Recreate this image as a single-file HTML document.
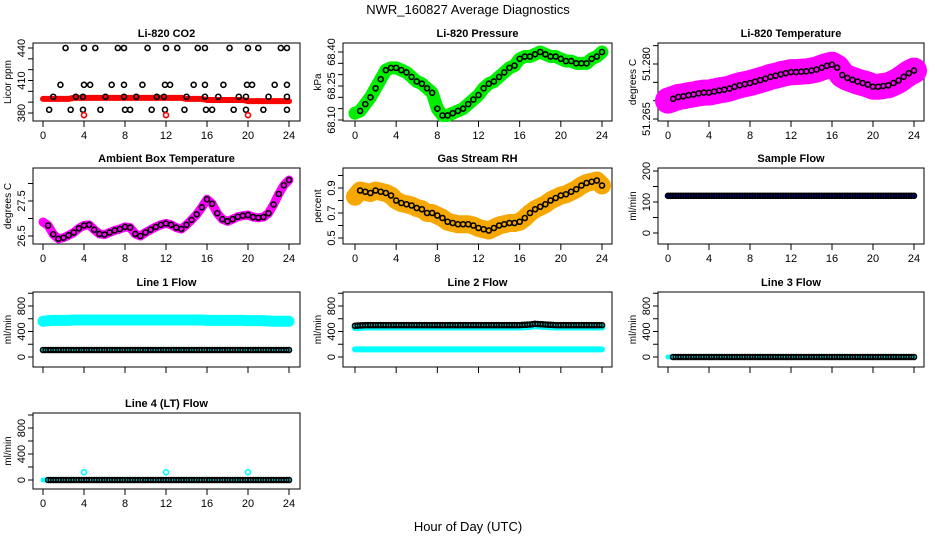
<!DOCTYPE html>
<html><head><meta charset="utf-8"><style>
html,body{margin:0;padding:0;background:#fff;}
svg{display:block;font-family:"Liberation Sans",Arial,sans-serif;}
</style></head><body>
<svg id="chart" width="936" height="540" viewBox="0 0 936 540" xmlns="http://www.w3.org/2000/svg">
<text x="468" y="14" text-anchor="middle" font-size="13">NWR_160827  Average Diagnostics</text>
<text x="468" y="531" text-anchor="middle" font-size="13">Hour of Day (UTC)</text>
</svg>
<script>
// ---- data ----
const hours = [0,0.5,1,1.5,2,2.5,3,3.5,4,4.5,5,5.5,6,6.5,7,7.5,8,8.5,9,9.5,10,10.5,11,11.5,12,12.5,13,13.5,14,14.5,15,15.5,16,16.5,17,17.5,18,18.5,19,19.5,20,20.5,21,21.5,22,22.5,23,23.5,24];
const xTicks = [0,4,8,12,16,20,24];

const co2Band = [393,393,393,393,393,393,394,394,394,394,394,394,394,394,394,394,394,394,394,394,394,394,394,394,394,394,394,394,393,393,393,393,392,392,392,392,392,392,392,392,391,391,391,391,391,391,391,391,391];
const co2PtX = [2.2,4,5.1,7.3,7.9,10.2,12,13.1,15.1,15.8,18.2,20,21,23.2,23.8, 1.7,4,4.6,6.7,7.9,9.7,11.9,12.4,14.7,15.8,17.6,19.9,20.4,22.6,23.8, 1,3.2,3.9,6.1,7.9,9.1,11.1,11.8,14,15.8,17.1,19.1,19.8,22,23.8, 0.6,2.7,3.9,5.6,8,8.5,10.6,11.9,13.8,15.9,16.5,18.6,19.8,21.5,23.8];
const co2PtY = [440,440,440,440,440,440,440,440,440,440,440,440,440,440,440, 406,406,406,406,406,406,406,406,406,406,406,406,406,406,406, 395,395,395,395,395,395,395,395,395,395,395,395,395,395,395, 383,383,383,383,383,383,383,383,383,383,383,383,383,383,383];
const co2OutX = [4,12,20];
const co2OutY = [378,378,378];

const presBand = [68.13,68.14,68.17,68.20,68.24,68.28,68.32,68.33,68.33,68.32,68.31,68.29,68.27,68.26,68.24,68.22,68.15,68.12,68.12,68.13,68.14,68.15,68.17,68.19,68.21,68.24,68.26,68.27,68.29,68.31,68.33,68.34,68.37,68.38,68.38,68.39,68.40,68.39,68.38,68.38,68.37,68.36,68.36,68.35,68.35,68.35,68.37,68.38,68.40];

const tempBand = [51.2700,51.2705,51.2710,51.2712,51.2715,51.2717,51.2720,51.2722,51.2722,51.2725,51.2728,51.2730,51.2733,51.2738,51.2742,51.2745,51.2748,51.2752,51.2756,51.2760,51.2765,51.2768,51.2772,51.2775,51.2778,51.2778,51.2779,51.2780,51.2782,51.2785,51.2790,51.2795,51.2798,51.2790,51.2770,51.2762,51.2757,51.2752,51.2748,51.2744,51.2738,51.2738,51.2740,51.2742,51.2748,51.2755,51.2765,51.2775,51.2782];

const ambBand = [26.9,26.8,26.55,26.42,26.45,26.52,26.6,26.72,26.8,26.82,26.68,26.56,26.54,26.6,26.66,26.7,26.76,26.74,26.56,26.5,26.6,26.68,26.76,26.82,26.86,26.82,26.74,26.7,26.82,26.96,27.12,27.32,27.55,27.42,27.15,26.98,26.92,26.98,27.05,27.08,27.1,27.04,27.02,27.04,27.15,27.4,27.7,27.95,28.1];

const rhBand = [0.83,0.88,0.87,0.86,0.88,0.87,0.86,0.84,0.80,0.78,0.77,0.76,0.74,0.73,0.70,0.70,0.68,0.66,0.63,0.62,0.61,0.61,0.61,0.60,0.58,0.57,0.56,0.58,0.60,0.61,0.62,0.62,0.63,0.66,0.70,0.73,0.75,0.77,0.80,0.82,0.84,0.85,0.87,0.89,0.92,0.94,0.95,0.96,0.92];

const sampleFlow = [120,120,120,120,120,120,120,120,120,120,120,120,120,120,120,120,120,120,120,120,120,120,120,120,120,120,120,120,120,120,120,120,120,120,120,120,120,120,120,120,120,120,120,120,120,120,120,120,120];
const line1Main = [560,570,575,575,575,575,580,580,580,580,580,580,580,580,580,580,580,580,580,580,580,580,580,580,580,580,580,580,580,580,580,580,575,575,575,575,575,575,575,575,570,570,570,570,565,560,560,560,560];
const line1Low = [110,110,110,110,110,110,110,110,110,110,110,110,110,110,110,110,110,110,110,110,110,110,110,110,110,110,110,110,110,110,110,110,110,110,110,110,110,110,110,110,110,110,110,110,110,110,110,110,110];
const line2Main = [490,495,500,500,500,500,500,500,500,500,500,500,500,500,500,500,500,500,500,500,500,500,500,500,500,500,500,500,500,500,500,500,500,505,510,520,515,510,505,500,500,500,500,500,500,500,500,500,500];
const line2Low = [120,120,120,120,120,120,120,120,120,120,120,120,120,120,120,120,120,120,120,120,120,120,120,120,120,120,120,120,120,120,120,120,120,120,120,120,120,120,120,120,120,120,120,120,120,120,120,120,120];
const zeroFlow = [0,0,0,0,0,0,0,0,0,0,0,0,0,0,0,0,0,0,0,0,0,0,0,0,0,0,0,0,0,0,0,0,0,0,0,0,0,0,0,0,0,0,0,0,0,0,0,0,0];
const line4OutX = [4,12,20];
const line4OutY = [120,120,120];

// ---- layout ----
const NS = "http://www.w3.org/2000/svg";
const svg = document.getElementById('chart');
const cols = [{bx0:33,bx1:300,x0:43,x24:289},{bx0:343,bx1:612,x0:355,x24:602},{bx0:658,bx1:924,x0:668,x24:914}];
const rows = [{t:43,b:121},{t:168,b:244},{t:292,b:367},{t:413,b:489}];

function mk(tag, attrs){const e=document.createElementNS(NS,tag);for(const k in attrs)e.setAttribute(k,attrs[k]);return e;}

function panel(name,title,ci,ri,ylab,yv0,yp0,yv1,yp1,yTickVals,yLabVals,showXLabels){
  const c=cols[ci], r=rows[ri];
  const g=mk('g',{});
  
  
  svg.appendChild(g);
  const sx=h=>c.x0+h*(c.x24-c.x0)/24;
  const sy=v=>yp0+(v-yv0)*(yp1-yp0)/(yv1-yv0);
  const box=mk('rect',{x:c.bx0,y:r.t,width:c.bx1-c.bx0,height:r.b-r.t,fill:'none',stroke:'#000','stroke-width':1});
  
  
  g.appendChild(box);
  const tt=mk('text',{x:(c.bx0+c.bx1)/2,y:r.t-6,'text-anchor':'middle','font-size':11,'font-weight':'bold'});
  tt.textContent=title;
  
  
  g.appendChild(tt);
  xTicks.forEach(h=>{
    const l=mk('line',{x1:sx(h),x2:sx(h),y1:r.b,y2:r.b+6,stroke:'#000'});
    
    
    g.appendChild(l);
    if(showXLabels){
      const t=mk('text',{x:sx(h),y:r.b+18,'text-anchor':'middle','font-size':11});
      t.textContent=h;
      
      
      g.appendChild(t);
    }
  });
  yTickVals.forEach(v=>{
    const y=sy(v);
    const l=mk('line',{x1:c.bx0-5,x2:c.bx0,y1:y,y2:y,stroke:'#000'});
    
    
    g.appendChild(l);
  });
  yLabVals.forEach(v=>{
    const y=sy(+v), x=c.bx0-8;
    const t=mk('text',{x:x,y:y,'text-anchor':'middle','font-size':11,transform:`rotate(-90 ${x} ${y})`});
    t.textContent=v;
    
    
    g.appendChild(t);
  });
  const ylx=c.bx0-22, yly=(r.t+r.b)/2;
  const yl=mk('text',{x:ylx,y:yly,'text-anchor':'middle','font-size':10,transform:`rotate(-90 ${ylx} ${yly})`});
  yl.textContent=ylab;
  
  
  g.appendChild(yl);
  return {g,sx,sy};
}

function band(p,name,xs,vs,color,w){
  const pts=xs.map((h,i)=>p.sx(h)+','+p.sy(vs[i])).join(' ');
  const pl=mk('polyline',{points:pts,fill:'none',stroke:color,'stroke-width':w,'stroke-linecap':'round','stroke-linejoin':'round'});
  
  
  p.g.appendChild(pl);
}
function points(p,name,xs,vs,color,step,start){
  for(let i=start;i<xs.length;i+=step){
    const ci=mk('circle',{cx:p.sx(xs[i]),cy:p.sy(vs[i]),r:2.5,fill:'none',stroke:color,'stroke-width':1.6});
    
    
    p.g.appendChild(ci);
  }
}
function densePoints(p,name,xs,vs,color){
  for(let i=0;i<xs.length-1;i++){
    for(let k=0;k<2;k++){
      const f=k/2;
      const ci=mk('circle',{cx:p.sx(xs[i]+(xs[i+1]-xs[i])*f),cy:p.sy(vs[i]+(vs[i+1]-vs[i])*f),r:2.5,fill:'none',stroke:color,'stroke-width':1.6});
      
      
      p.g.appendChild(ci);
    }
  }
  const last=xs.length-1;
  const ce=mk('circle',{cx:p.sx(xs[last]),cy:p.sy(vs[last]),r:2.5,fill:'none',stroke:color,'stroke-width':1.6});
  
  
  p.g.appendChild(ce);
}

// 1 CO2
let p=panel('co2','Li-820 CO2',0,0,'Licor ppm',380,113,440,48,[380,390,400,410,420,430,440],['380','410','440'],true);
band(p,'co2-red-band',hours,co2Band,'#ff0000',6);
points(p,'co2-black-point',co2PtX,co2PtY,'#000',1,0);
points(p,'co2-red-outlier',co2OutX,co2OutY,'#ff0000',1,0);
// 2 Pressure
p=panel('pressure','Li-820 Pressure',1,0,'kPa',68.10,120,68.40,52,[68.10,68.15,68.20,68.25,68.30,68.35,68.40],['68.10','68.25','68.40'],true);
band(p,'pressure-green-band',hours,presBand,'#00ee00',13);
points(p,'pressure-black-point',hours,presBand,'#000',1,1);
// 3 Temperature
p=panel('temperature','Li-820 Temperature',2,0,'degrees C',51.265,119,51.280,64,[51.265,51.270,51.275,51.280,51.285],['51.265','51.280'],true);
band(p,'temperature-magenta-band',hours,tempBand,'#ff00ff',26);
points(p,'temperature-black-point',hours,tempBand,'#000',1,1);
// 4 Ambient
p=panel('ambient','Ambient Box Temperature',0,1,'degrees C',26.5,236,27.5,201,[26.5,27.0,27.5,28.0],['26.5','27.5'],true);
band(p,'ambient-magenta-band',hours,ambBand,'#ff00ff',9);
points(p,'ambient-black-point',hours,ambBand,'#000',1,1);
// 5 RH
p=panel('rh','Gas Stream RH',1,1,'percent',0.5,238,0.9,188,[0.5,0.6,0.7,0.8,0.9,1.0],['0.5','0.7','0.9'],true);
band(p,'rh-orange-band',hours,rhBand,'#f7a800',18);
points(p,'rh-black-point',hours,rhBand,'#000',1,1);
// 6 Sample flow
p=panel('sample-flow','Sample Flow',2,1,'ml/min',0,233,200,171,[0,50,100,150,200],['0','100','200'],true);
band(p,'sample-flow-blue-band',hours,sampleFlow,'#0000ff',5);
densePoints(p,'sample-flow-black-point',hours,sampleFlow,'#000');
// 7 Line 1
p=panel('line1','Line 1 Flow',0,2,'ml/min',0,357,800,306,[0,200,400,600,800,1000],['0','400','800'],false);
band(p,'line1-cyan-main-band',hours,line1Main,'#00ffff',11);
band(p,'line1-cyan-low-band',hours,line1Low,'#00ffff',5);
densePoints(p,'line1-black-point',hours,line1Low,'#000');
// 8 Line 2
p=panel('line2','Line 2 Flow',1,2,'ml/min',0,357,800,306,[0,200,400,600,800,1000],['0','400','800'],false);
band(p,'line2-cyan-main-band',hours,line2Main.map(v=>v-30),'#00ffff',7);
band(p,'line2-cyan-low-band',hours,line2Low,'#00ffff',6);
densePoints(p,'line2-black-point',hours,line2Main,'#000');
// 9 Line 3
p=panel('line3','Line 3 Flow',2,2,'ml/min',0,357,800,306,[0,200,400,600,800,1000],['0','400','800'],false);
band(p,'line3-cyan-band',hours,zeroFlow,'#00ffff',5);
densePoints(p,'line3-black-point',hours.slice(1),zeroFlow.slice(1),'#000');
// 10 Line 4
p=panel('line4','Line 4 (LT) Flow',0,3,'ml/min',0,480,800,428,[0,200,400,600,800,1000],['0','400','800'],true);
band(p,'line4-cyan-band',hours,zeroFlow,'#00ffff',5);
densePoints(p,'line4-black-point',hours.slice(1),zeroFlow.slice(1),'#000');
points(p,'line4-cyan-outlier',line4OutX,line4OutY,'#00ffff',1,0);
</script>
</body></html>
